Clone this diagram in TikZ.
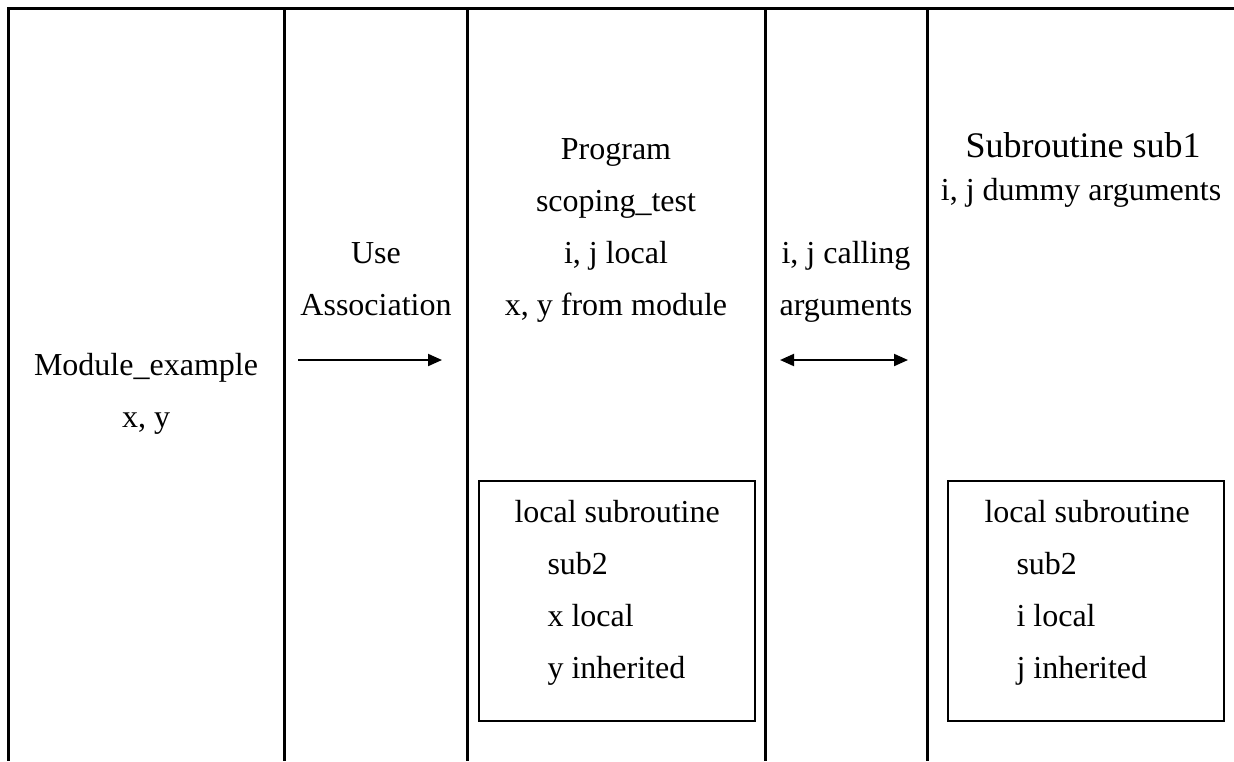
\documentclass[tikz,border=0pt]{standalone}
\usepackage{fontspec}
\setmainfont{Liberation Serif}
\usetikzlibrary{arrows.meta}

\begin{document}
\begin{tikzpicture}[x=0.5pt, y=-0.5pt, line width=1.5pt,
	every node/.style={font=\fontsize{16}{19}\selectfont, inner sep=0pt, anchor=base},
	bigtext/.style={font=\fontsize{18}{22}\selectfont},
	subbox/.style={draw, line width=1pt, minimum width=138pt, minimum height=120pt, anchor=north west},
	assoc/.style={line width=1pt, -{Triangle[length=7pt, width=6pt]}},
	callassoc/.style={line width=1pt, {Triangle[length=7pt, width=6pt]}-{Triangle[length=7pt, width=6pt]}}]
	\useasboundingbox (0,0) rectangle (1234,761);
	% frame and column rules
	\draw (1234,8) -- (8,8) -- (8,761);
	\foreach \x in {284,467,765,927} {\draw (\x,8) -- (\x,761);}
	% module
	\node (mod) at (146,375) {Module\_example};
	\node (modvars) at (146,427) {x, y};
	% use association
	\node (use) at (376,263) {Use};
	\node (useassoc) at (376,315) {Association};
	\coordinate (usefrom) at (298,360);
	\coordinate (useto) at (442,360);
	\draw[assoc] (usefrom) -- (useto);
	% main program
	\node (prog) at (616,159) {Program};
	\node (progname) at (616,211) {scoping\_test};
	\node (proglocal) at (616,263) {i, j local};
	\node (progmod) at (616,315) {x, y from module};
	\node[subbox] (boxA) at (478,480) {};
	\node[anchor=base west] (subA) at (513,522) {local subroutine};
	\foreach \t [count=\i] in {sub2, x local, y inherited} {\node[anchor=base west] (subA\i) at (546,522+52*\i) {\t};}
	% calling arguments
	\node (call) at (846,263) {i, j calling};
	\node (callargs) at (846,315) {arguments};
	\coordinate (callfrom) at (780,360);
	\coordinate (callto) at (908,360);
	\draw[callassoc] (callfrom) -- (callto);
	% subroutine
	\node[bigtext] (sub) at (1083,157) {Subroutine sub1};
	\node (subargs) at (1081,200) {i, j dummy arguments};
	\node[subbox] (boxB) at (947,480) {};
	\node[anchor=base west] (subB) at (983,522) {local subroutine};
	\foreach \t [count=\i] in {sub2, i local, j inherited} {\node[anchor=base west] (subB\i) at (1015,522+52*\i) {\t};}
\end{tikzpicture}
\end{document}
